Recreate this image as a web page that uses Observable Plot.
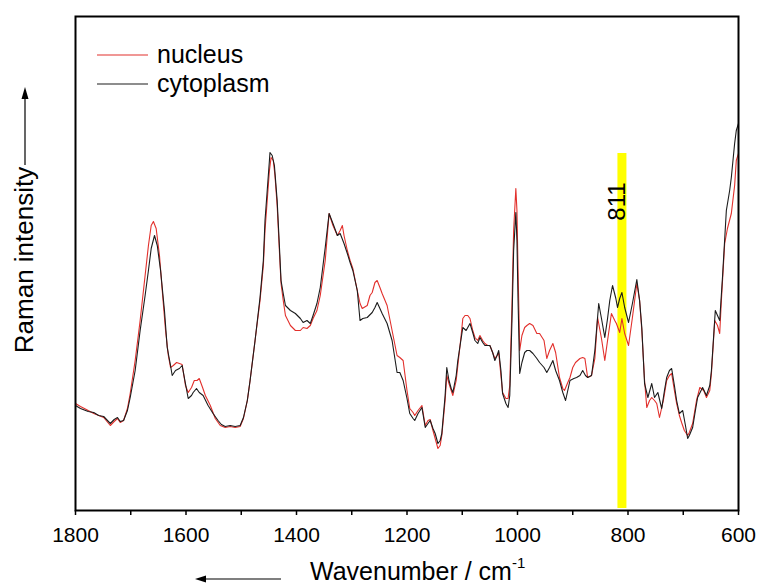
<!DOCTYPE html>
<html>
<head>
<meta charset="utf-8">
<script src="https://cdn.jsdelivr.net/npm/d3@7"></script>
<script src="https://cdn.jsdelivr.net/npm/@observablehq/plot@0.6"></script>
<style>
  body { margin: 0; background: #fff; }
  svg { display: block; }
</style>
</head>
<body>
<div id="chart"></div>
<script>
// Raman spectra, [wavenumber (cm^-1), intensity (a.u.)]
const nucleus = [
  [1800,105],[1791,102],[1777,98],[1767,95],[1758,93],[1749,91],[1737,83],[1730,87],[1724,90],[1719,86],[1713,88],[1706,100],[1701,115],[1692,148],[1683,188],[1674,233],[1668,263],[1663,283],[1659,287],[1654,280],[1648,253],[1643,218],[1637,178],[1632,153],[1628,141],[1623,143],[1617,146],[1612,145],[1607,144],[1601,123],[1596,116],[1590,121],[1585,128],[1580,128],[1576,130],[1570,121],[1565,113],[1556,103],[1547,90],[1538,83],[1529,81],[1520,82],[1511,81],[1502,82],[1496,90],[1489,108],[1484,128],[1475,168],[1466,208],[1460,243],[1457,278],[1453,308],[1449,338],[1446,351],[1442,348],[1439,333],[1435,303],[1431,258],[1428,225],[1424,208],[1420,193],[1411,183],[1402,178],[1393,178],[1388,181],[1381,180],[1375,183],[1370,190],[1363,198],[1357,213],[1348,248],[1341,295],[1334,283],[1326,273],[1321,278],[1317,283],[1314,273],[1308,258],[1303,248],[1298,240],[1290,218],[1285,205],[1281,200],[1272,203],[1267,213],[1263,216],[1258,226],[1254,228],[1249,221],[1245,215],[1236,203],[1227,178],[1218,153],[1213,151],[1207,148],[1200,118],[1195,100],[1189,96],[1186,93],[1180,98],[1173,103],[1167,83],[1162,88],[1158,89],[1153,78],[1149,70],[1144,60],[1140,63],[1137,73],[1131,108],[1128,133],[1124,125],[1120,118],[1117,113],[1111,128],[1108,143],[1102,173],[1099,190],[1095,193],[1090,193],[1086,190],[1081,178],[1077,171],[1072,168],[1068,173],[1063,168],[1059,165],[1054,163],[1050,163],[1045,156],[1041,150],[1037,153],[1034,156],[1030,133],[1027,116],[1021,110],[1017,110],[1014,123],[1010,203],[1007,278],[1003,320],[1001,298],[999,238],[996,158],[992,173],[987,181],[983,183],[978,185],[972,183],[965,175],[960,175],[952,168],[947,150],[942,158],[936,165],[931,156],[924,131],[918,120],[915,118],[909,126],[905,131],[900,141],[895,146],[887,150],[882,151],[878,150],[873,131],[866,133],[860,150],[855,191],[848,170],[842,148],[837,168],[830,195],[824,188],[821,185],[815,176],[811,190],[806,175],[799,163],[792,191],[784,225],[779,208],[775,178],[770,128],[766,101],[761,108],[757,111],[752,108],[748,105],[743,91],[736,108],[730,128],[725,133],[721,135],[716,118],[712,105],[707,93],[703,86],[698,78],[692,73],[689,76],[683,85],[676,108],[670,121],[663,118],[658,111],[652,118],[649,135],[643,188],[638,183],[634,175],[631,208],[625,265],[620,280],[613,295],[607,323],[604,348],[600,355]
];

const cytoplasm = [
  [1800,103],[1791,100],[1777,97],[1767,96],[1758,93],[1749,92],[1737,85],[1730,89],[1724,91],[1719,87],[1713,88],[1706,98],[1701,111],[1692,138],[1683,178],[1674,213],[1668,238],[1663,260],[1657,273],[1652,263],[1646,238],[1639,198],[1634,161],[1628,143],[1625,133],[1619,138],[1612,140],[1607,143],[1601,125],[1596,110],[1590,113],[1587,116],[1581,120],[1576,116],[1569,113],[1560,103],[1551,95],[1542,88],[1536,84],[1529,82],[1520,83],[1511,82],[1502,83],[1496,91],[1489,108],[1484,128],[1475,168],[1466,211],[1460,248],[1457,288],[1453,318],[1449,348],[1448,356],[1444,353],[1440,343],[1435,308],[1431,263],[1428,228],[1424,215],[1420,203],[1411,198],[1402,195],[1393,190],[1388,186],[1381,188],[1375,185],[1370,193],[1363,205],[1357,221],[1348,261],[1341,295],[1334,285],[1326,273],[1321,275],[1314,265],[1308,255],[1303,246],[1298,238],[1290,218],[1285,188],[1280,190],[1272,191],[1263,196],[1258,201],[1254,206],[1249,200],[1245,195],[1236,185],[1227,168],[1218,136],[1213,136],[1207,128],[1200,110],[1195,95],[1189,90],[1186,88],[1180,95],[1173,101],[1167,81],[1162,85],[1158,88],[1153,80],[1149,75],[1144,65],[1140,68],[1137,75],[1131,113],[1128,141],[1124,128],[1120,120],[1117,116],[1111,133],[1108,148],[1102,170],[1099,181],[1093,178],[1086,185],[1081,176],[1077,168],[1072,165],[1068,171],[1063,166],[1059,163],[1054,163],[1050,163],[1045,156],[1041,148],[1037,153],[1034,158],[1030,138],[1027,115],[1021,105],[1017,101],[1014,113],[1010,188],[1007,258],[1003,296],[1001,268],[999,208],[996,135],[992,146],[987,156],[983,158],[978,158],[972,155],[965,150],[960,146],[952,141],[947,136],[942,141],[936,148],[931,138],[924,128],[918,116],[913,108],[909,118],[905,128],[898,130],[893,131],[887,133],[882,138],[877,133],[873,131],[866,133],[860,158],[853,205],[848,190],[842,171],[837,190],[833,208],[828,223],[822,210],[819,201],[815,210],[811,216],[806,201],[799,186],[792,205],[784,229],[779,208],[775,181],[770,125],[764,111],[757,125],[752,111],[746,116],[739,100],[734,118],[730,131],[725,138],[721,140],[716,123],[712,108],[707,95],[701,98],[696,83],[692,70],[689,73],[683,81],[678,98],[674,111],[665,121],[658,113],[652,123],[649,138],[642,198],[638,193],[634,188],[629,231],[622,298],[616,318],[613,331],[607,365],[604,378],[600,385]
];

const seriesNames = ["nucleus", "cytoplasm"];
const seriesColors = ["#e2302c", "#1c1c1c"];
const xTicks = d3.range(600, 1801, 100);
const markedBand = 811;          // highlighted band position (cm^-1)
const markedBandTop = 355;       // upper end of the highlight
const markedLabelY = 307;        // vertical position of the band label

const font = "Arial, 'Liberation Sans', Helvetica, sans-serif";

const chart = Plot.plot({
  width: 762,
  height: 587,
  marginLeft: 75,
  marginRight: 24,
  marginTop: 16,
  marginBottom: 77,
  style: { fontFamily: font, fontSize: "21px", color: "#000", background: "#fff" },
  x: { domain: [1800, 600], label: null },
  y: { domain: [-2, 492], axis: null },
  marks: [
    Plot.ruleX([markedBand], { x: d => d, y1: 0, y2: markedBandTop, stroke: "#ffff00", strokeWidth: 9 }),
    Plot.text([markedBand], {
      x: d => d, y: () => markedLabelY, text: d => String(d),
      rotate: -90, dx: -5, fontSize: 24, fill: "#000"
    }),
    Plot.line(nucleus, { x: d => d[0], y: d => d[1], stroke: seriesColors[0], strokeWidth: 1.1 }),
    Plot.line(cytoplasm, { x: d => d[0], y: d => d[1], stroke: seriesColors[1], strokeWidth: 1.1 }),
    Plot.axisX({
      ticks: xTicks,
      tickFormat: d => (d % 200 === 0 ? String(d) : ""),
      tickSize: 5, tickPadding: 12, fontSize: 21, strokeWidth: 1.5
    }),
    Plot.frame({ stroke: "#000", strokeWidth: 2 })
  ]
});

document.getElementById("chart").appendChild(chart);

const svg = d3.select(chart);
const ink = "#000";

// Legend inside the frame
const legend = svg.append("g")
  .attr("font-family", font).attr("font-size", 25).attr("fill", ink)
  .attr("text-anchor", "start");
seriesNames.forEach((name, i) => {
  const y = 55 + i * 29;
  legend.append("line")
    .attr("x1", 97).attr("x2", 148).attr("y1", y).attr("y2", y)
    .attr("stroke", seriesColors[i]).attr("stroke-width", 1.2);
  legend.append("text").attr("x", 157).attr("y", y + 8).text(name);
});

// x-axis title with a direction arrow
const xt = svg.append("text")
  .attr("x", 310).attr("y", 580)
  .attr("text-anchor", "start")
  .attr("font-family", font).attr("font-size", 25).attr("fill", ink)
  .text("Wavenumber / cm");
xt.append("tspan").attr("font-size", 15).attr("dy", -12).text("-1");

svg.append("line").attr("x1", 281).attr("x2", 204).attr("y1", 579).attr("y2", 579)
  .attr("stroke", ink).attr("stroke-width", 1.2);
svg.append("path").attr("d", "M195,579 L206,575.5 L206,582.5 Z").attr("fill", ink);

// y-axis title with a direction arrow
svg.append("text")
  .attr("transform", "translate(33,260) rotate(-90)")
  .attr("text-anchor", "middle")
  .attr("font-family", font).attr("font-size", 26).attr("fill", ink)
  .text("Raman intensity");

svg.append("line").attr("x1", 25).attr("x2", 25).attr("y1", 165).attr("y2", 97)
  .attr("stroke", ink).attr("stroke-width", 1.2);
svg.append("path").attr("d", "M25,87 L21.5,99 L28.5,99 Z").attr("fill", ink);
</script>
</body>
</html>
